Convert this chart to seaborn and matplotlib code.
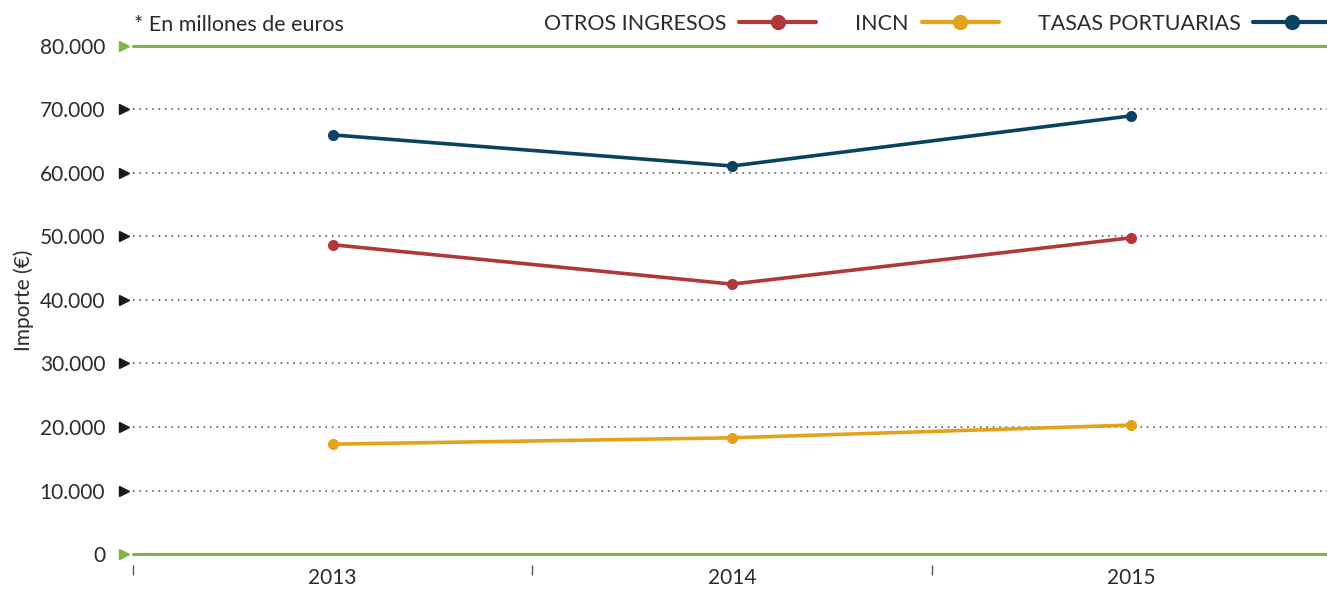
import pandas as pd
import matplotlib
matplotlib.use("Agg")
import matplotlib.pyplot as plt
import matplotlib.transforms as mtransforms
import seaborn as sns

# values (in millones de euros)
years = [2013, 2014, 2015]
otros_ingresos = [48700, 42500, 49800]
incn = [17300, 18300, 20300]
tasas_portuarias = [66000, 61100, 69000]

series_names = ["OTROS INGRESOS", "INCN", "TASAS PORTUARIAS"]
colors = ["#b0373a", "#e2a31b", "#0b4262"]
yticks = [0, 10000, 20000, 30000, 40000, 50000, 60000, 70000, 80000]
ytick_labels = ["0", "10.000", "20.000", "30.000", "40.000", "50.000",
                "60.000", "70.000", "80.000"]

df = pd.DataFrame({
    "year": years * 3,
    "value": otros_ingresos + incn + tasas_portuarias,
    "serie": [s for s in series_names for _ in years],
})

sns.set_style("white")
plt.rcParams["font.family"] = ["Lato", "DejaVu Sans"]
text_color = "#2b2b2b"
green = "#7ab648"

fig = plt.figure(figsize=(13.27, 5.91), dpi=100)
ax = fig.add_axes([0.1002, 0.0626, 0.8998, 0.8596])

sns.lineplot(data=df, x="year", y="value", hue="serie", hue_order=series_names,
             palette=colors, marker="o", markersize=8, markeredgewidth=0,
             linewidth=2.6, ax=ax, zorder=3)

ax.set_xlim(2012.5, 2015.49)
ax.set_ylim(0, 80000)

# grid lines: dotted for inner, green solid for 0 and 80.000
for v in yticks:
    if v in (0, 80000):
        ax.axhline(v, color=green, lw=2.2, zorder=2, clip_on=False)
    else:
        ax.axhline(v, color="#444444", lw=1.1, ls=(0, (1, 3.2)), zorder=1)

# small triangle markers in front of each tick
trans = mtransforms.blended_transform_factory(ax.transAxes, ax.transData)
for v in yticks:
    c = green if v in (0, 80000) else "#1a1a1a"
    ax.plot([-0.0072], [v], marker=">", color=c, markersize=7,
            transform=trans, clip_on=False)

ax.set_yticks(yticks)
ax.set_yticklabels(ytick_labels)
ax.tick_params(axis="y", length=0, pad=20, labelsize=15, labelcolor=text_color)

ax.set_xticks(years)
ax.set_xticklabels([str(y) for y in years])
ax.set_xticks([2012.5, 2013.5, 2014.5], minor=True)
ax.tick_params(axis="x", which="both", bottom=True)
ax.tick_params(axis="x", which="major", length=0, pad=2,
               labelsize=15, labelcolor=text_color)
ax.tick_params(axis="x", which="minor", length=7, width=1, color="#555555")

for side in ["top", "right", "left"]:
    ax.spines[side].set_visible(False)
ax.spines["bottom"].set_position(("outward", 8))
ax.spines["bottom"].set_color("none")

ax.set_xlabel("")
ax.set_ylabel("Importe (€)", fontsize=15, color=text_color, labelpad=4)

fig.text(0.101, 0.958, "* En millones de euros", fontsize=15.5,
         color=text_color, va="center")

handles, labels = ax.get_legend_handles_labels()
for h in handles:
    h.set_markersize(11)
    h.set_linewidth(3)
ax.legend(handles, labels, ncol=3, markerfirst=False, frameon=False,
          fontsize=15.5, handlelength=3.6, columnspacing=1.8, handletextpad=0.6,
          borderpad=0, borderaxespad=0,
          loc="center right", bbox_to_anchor=(1.003, 0.96),
          bbox_transform=fig.transFigure, labelcolor=text_color)

fig.savefig("out.png", dpi=100)
